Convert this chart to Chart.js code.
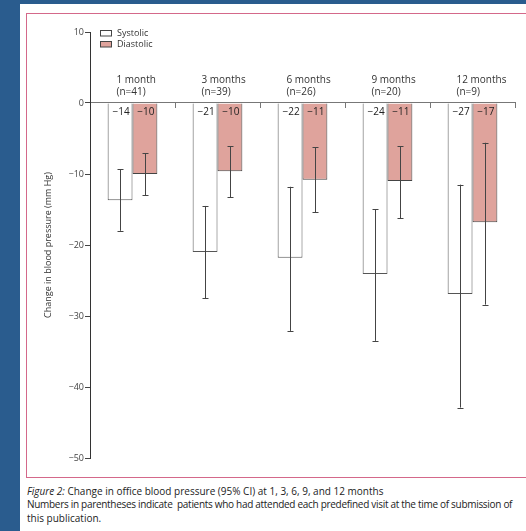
<!DOCTYPE html>
<html>
<head>
<meta charset="utf-8">
<script src="https://cdn.jsdelivr.net/npm/chart.js@4/dist/chart.umd.min.js"></script>
<style>
  html, body { margin:0; padding:0; }
  body { width:526px; height:531px; background:#2a5c8e; position:relative; overflow:hidden; }
  #panel { position:absolute; left:20px; top:4px; width:520px; height:540px; background:#fff; }
  #frame { position:absolute; left:26px; top:13px; width:520px; height:465px; border:1.5px solid #d4688a; box-sizing:border-box; }
  #wrap { position:absolute; left:0; top:0; width:526px; height:480px; }
  #caption { position:absolute; left:27px; top:485px; width:499px; font-family:"Open Sans", sans-serif; font-size:10px; line-height:13.3px; color:#222; white-space:nowrap; }
  #caption i { font-style:italic; }
  #caption .l2 { letter-spacing:-0.3px; }
</style>
</head>
<body>
<div id="panel"></div>
<div id="frame"></div>
<div id="wrap"><canvas id="c" width="526" height="480"></canvas></div>
<div id="caption"><i>Figure 2:</i> Change in office blood pressure (95% CI) at 1, 3, 6, 9, and 12 months<br><span class="l2">Numbers in parentheses indicate&nbsp; patients who had attended each predefined visit at the time of submission of</span><br>this publication.</div>
<script>
const categories = ['1 month', '3 months', '6 months', '9 months', '12 months'];
const patientCounts = [41, 39, 26, 20, 9];
const systolic = [-13.7, -21.0, -21.8, -24.1, -26.9];
const diastolic = [-10.0, -9.6, -10.8, -11.0, -16.8];
const systolicLow = [-18.0, -27.5, -32.1, -33.5, -42.9];
const systolicHigh = [-9.3, -14.5, -11.8, -15.0, -11.5];
const diastolicLow = [-13.0, -13.3, -15.4, -16.2, -28.4];
const diastolicHigh = [-7.1, -6.1, -6.2, -6.1, -5.6];
const yTicks = [10, 0, -10, -20, -30, -40, -50];
const seriesNames = ['Systolic', 'Diastolic'];

const FONT = '"Open Sans", sans-serif';
const fmt = v => (v < 0 ? '\u2212' + Math.abs(v) : String(v));

const overlay = {
  id: 'overlay',
  afterDatasetsDraw(chart) {
    const ctx = chart.ctx;
    const y = chart.scales.y;
    const lows = [systolicLow, diastolicLow];
    const highs = [systolicHigh, diastolicHigh];
    const vals = [systolic, diastolic];
    ctx.save();
    // error bars
    ctx.strokeStyle = '#444';
    ctx.lineWidth = 1;
    for (let d = 0; d < 2; d++) {
      const meta = chart.getDatasetMeta(d);
      meta.data.forEach((bar, i) => {
        const x = Math.round(bar.x) + 0.5;
        const yl = y.getPixelForValue(lows[d][i]);
        const yh = y.getPixelForValue(highs[d][i]);
        ctx.beginPath();
        ctx.moveTo(x, yh); ctx.lineTo(x, yl);
        ctx.moveTo(x - 3, Math.round(yh) + 0.5); ctx.lineTo(x + 3, Math.round(yh) + 0.5);
        ctx.moveTo(x - 3, Math.round(yl) + 0.5); ctx.lineTo(x + 3, Math.round(yl) + 0.5);
        ctx.stroke();
      });
    }
    // value labels inside bars
    ctx.fillStyle = '#222';
    ctx.font = '10px ' + FONT;
    ctx.textAlign = 'center';
    ctx.textBaseline = 'top';
    const y0 = y.getPixelForValue(0);
    for (let d = 0; d < 2; d++) {
      const meta = chart.getDatasetMeta(d);
      meta.data.forEach((bar, i) => {
        ctx.fillText(fmt(Math.round(vals[d][i])), bar.x + 1, y0 + 4);
      });
    }
    // category labels
    const x = chart.scales.x;
    ctx.textAlign = 'left';
    ctx.textBaseline = 'alphabetic';
    ctx.fillStyle = '#333';
    categories.forEach((c, i) => {
      const cx = x.getPixelForValue(i) - 16;
      ctx.fillText(c, cx, y0 - 20);
      ctx.fillText('(n=' + patientCounts[i] + ')', cx, y0 - 8);
    });
    // legend
    const lx = 100;
    const rows = [{ fill: '#ffffff', top: 30.5 }, { fill: '#dfa39c', top: 41.5 }];
    ctx.font = '9px ' + FONT;
    rows.forEach((r, k) => {
      ctx.fillStyle = r.fill;
      ctx.fillRect(lx + 0.5, r.top, 11, 5.5);
      ctx.strokeStyle = '#444';
      ctx.strokeRect(lx + 0.5, r.top, 11, 5.5);
      ctx.fillStyle = '#333';
      ctx.textBaseline = 'middle';
      ctx.fillText(seriesNames[k], lx + 17, r.top + 3);
    });
    ctx.restore();
  }
};

new Chart(document.getElementById('c'), {
  type: 'bar',
  data: {
    labels: categories,
    datasets: [
      { label: seriesNames[0], data: systolic, backgroundColor: '#ffffff', borderColor: '#555', borderWidth: 1 },
      { label: seriesNames[1], data: diastolic, backgroundColor: '#dfa39c', borderColor: '#444', borderWidth: 1 }
    ]
  },
  options: {
    responsive: false,
    animation: false,
    devicePixelRatio: 1,
    categoryPercentage: 0.585,
    barPercentage: 1.0,
    layout: { padding: { left: 0, right: 11, top: 32, bottom: 22 } },
    plugins: { legend: { display: false }, tooltip: { enabled: false } },
    scales: {
      x: {
        position: { y: 0 },
        offset: true,
        grid: { display: true, offset: true, drawOnChartArea: false, drawTicks: true, tickLength: 5, color: '#777', lineWidth: 1 },
        border: { display: true, color: '#777', width: 1 },
        ticks: { display: false }
      },
      y: {
        position: 'left',
        min: -50, max: 10,
        afterFit: s => { s.width = 90; },
        afterBuildTicks: s => { s.ticks = yTicks.map(v => ({ value: v })); },
        grid: { display: true, drawOnChartArea: false, drawTicks: true, tickLength: 5, color: '#444' },
        border: { display: true, color: '#333', width: 1 },
        ticks: { padding: 1, color: '#444', font: { family: FONT, size: 9 }, callback: v => fmt(v) },
        title: { display: true, text: 'Change in blood pressure (mm Hg)', color: '#333', font: { family: FONT, size: 9 }, padding: { top: 43, bottom: 0 } }
      }
    }
  },
  plugins: [overlay]
});
</script>
</body>
</html>
